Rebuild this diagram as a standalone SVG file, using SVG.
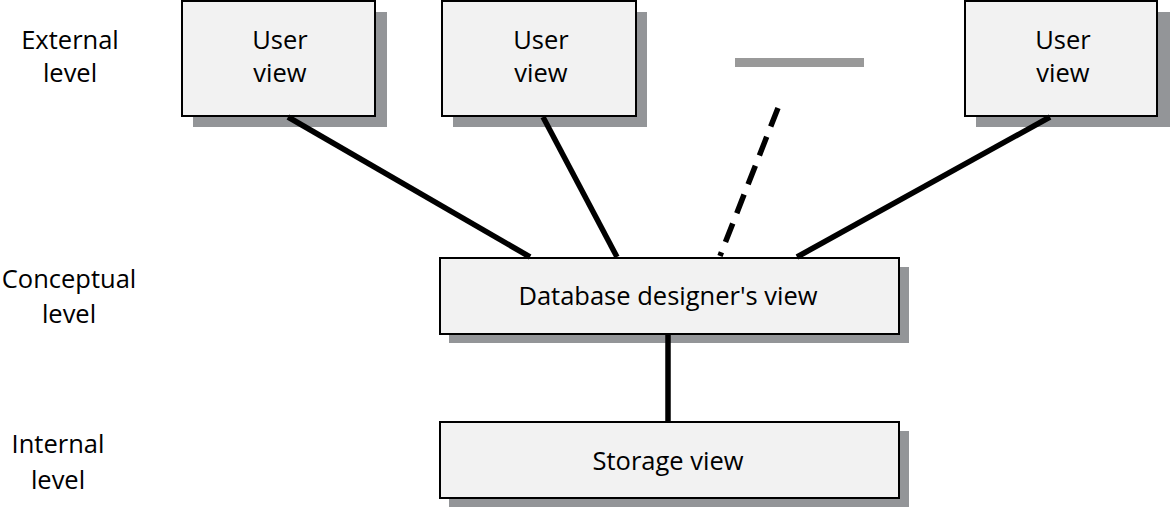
<svg xmlns="http://www.w3.org/2000/svg" width="1170" height="508" viewBox="0 0 1170 508">
<style>
.box{fill:#f2f2f2;stroke:#000;stroke-width:2}
.sh{fill:#939598}
.t{font-family:"Open Sans","Liberation Sans",sans-serif;font-size:25.5px;fill:#000;text-anchor:middle}
.c{stroke:#000;stroke-width:5.5;fill:none}
</style>
<rect width="1170" height="508" fill="#fff"/>
<g id="labels">
<text class="t" x="70" y="49">External</text>
<text class="t" x="70" y="82">level</text>
<text class="t" x="69" y="288">Conceptual</text>
<text class="t" x="69" y="323">level</text>
<text class="t" x="58" y="453">Internal</text>
<text class="t" x="58" y="489">level</text>
</g>
<g id="user1">
<rect class="sh" x="193" y="12" width="194" height="115"/>
<rect class="box" x="182" y="1" width="193" height="115"/>
<text class="t" x="280" y="49">User</text>
<text class="t" x="280" y="82">view</text>
</g>
<g id="user2">
<rect class="sh" x="453" y="12" width="194" height="115"/>
<rect class="box" x="442" y="1" width="194" height="115"/>
<text class="t" x="541" y="49">User</text>
<text class="t" x="541" y="82">view</text>
</g>
<g id="ellipsis">
<rect x="735" y="58" width="129" height="9" fill="#999"/>
</g>
<g id="user3">
<rect class="sh" x="976" y="12" width="194" height="115"/>
<rect class="box" x="965" y="1" width="192" height="115"/>
<text class="t" x="1063" y="49">User</text>
<text class="t" x="1063" y="82">view</text>
</g>
<g id="conceptual">
<rect class="sh" x="449" y="267" width="460" height="76"/>
<rect class="box" x="440" y="258" width="459" height="76"/>
<text class="t" x="668" y="305">Database designer's view</text>
</g>
<g id="storage">
<rect class="sh" x="449" y="431" width="460" height="76"/>
<rect class="box" x="440" y="422" width="459" height="76"/>
<text class="t" x="668" y="470">Storage view</text>
</g>
<g id="connectors">
<line class="c" x1="288" y1="117" x2="530" y2="257"/>
<line class="c" x1="543" y1="117" x2="617" y2="257"/>
<line class="c" x1="1050" y1="117" x2="797" y2="257"/>
<line class="c" x1="778" y1="108" x2="720" y2="256" stroke-dasharray="20,11"/>
<line class="c" x1="668" y1="335" x2="668" y2="421"/>
</g>
</svg>
